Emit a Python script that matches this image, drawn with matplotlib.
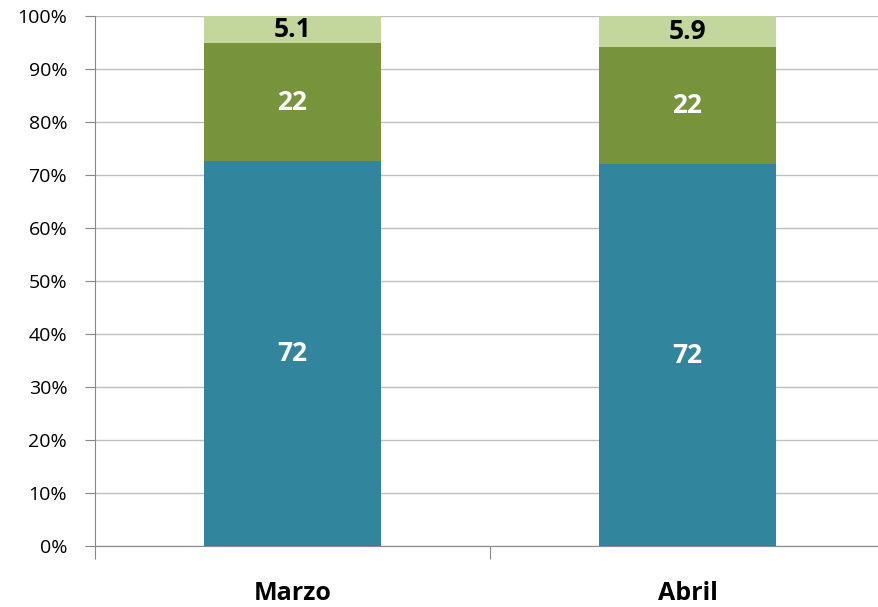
import numpy as np
import matplotlib.pyplot as plt
from matplotlib.ticker import PercentFormatter

# Datos
meses = ['Marzo', 'Abril']
serie1 = [72, 72]
serie2 = [22, 22]
serie3 = [5.1, 5.9]
etiquetas1 = ['72', '72']
etiquetas2 = ['22', '22']
etiquetas3 = ['5.1', '5.9']

colores = ['#31859C', '#77933C', '#C3D69B']

plt.rcParams['font.family'] = ['Open Sans', 'DejaVu Sans']

totales = np.array(serie1) + np.array(serie2) + np.array(serie3)
p1 = np.array(serie1) / totales * 100
p2 = np.array(serie2) / totales * 100
p3 = np.array(serie3) / totales * 100

fig = plt.figure(figsize=(8.79, 6.07), dpi=100)
ax = fig.add_axes([95 / 879, 61 / 607, 790 / 879, 530 / 607])

x = np.arange(len(meses))
ancho = 0.45
b1 = ax.bar(x, p1, ancho, color=colores[0], zorder=3)
b2 = ax.bar(x, p2, ancho, bottom=p1, color=colores[1], zorder=3)
b3 = ax.bar(x, p3, ancho, bottom=p1 + p2, color=colores[2], zorder=3)

ax.bar_label(b1, labels=etiquetas1, label_type='center', color='white',
             fontsize=19, fontweight='bold')
ax.bar_label(b2, labels=etiquetas2, label_type='center', color='white',
             fontsize=19, fontweight='bold')
ax.bar_label(b3, labels=etiquetas3, label_type='center', color='black',
             fontsize=19, fontweight='bold')

ax.set_xlim(-0.5, 1.5)
ax.set_ylim(0, 100)
ax.set_yticks(np.arange(0, 101, 10))
ax.yaxis.set_major_formatter(PercentFormatter(decimals=0))
ax.tick_params(axis='y', labelsize=14, length=7, color='#888888', pad=13)

# Separadores entre categorias y etiquetas centradas
ax.set_xticks([-0.5, 0.5, 1.5])
ax.set_xticklabels([])
ax.tick_params(axis='x', which='major', length=9, color='#888888')
ax.set_xticks(x, minor=True)
ax.set_xticklabels(meses, minor=True, fontsize=18, fontweight='bold')
ax.tick_params(axis='x', which='minor', length=0, pad=25)

ax.grid(axis='y', color='#BFBFBF', linewidth=1, zorder=0)
for lado in ['top', 'right']:
    ax.spines[lado].set_visible(False)
ax.spines['left'].set_color('#888888')
ax.spines['bottom'].set_color('#888888')

fig.savefig('out.png', dpi=100)
